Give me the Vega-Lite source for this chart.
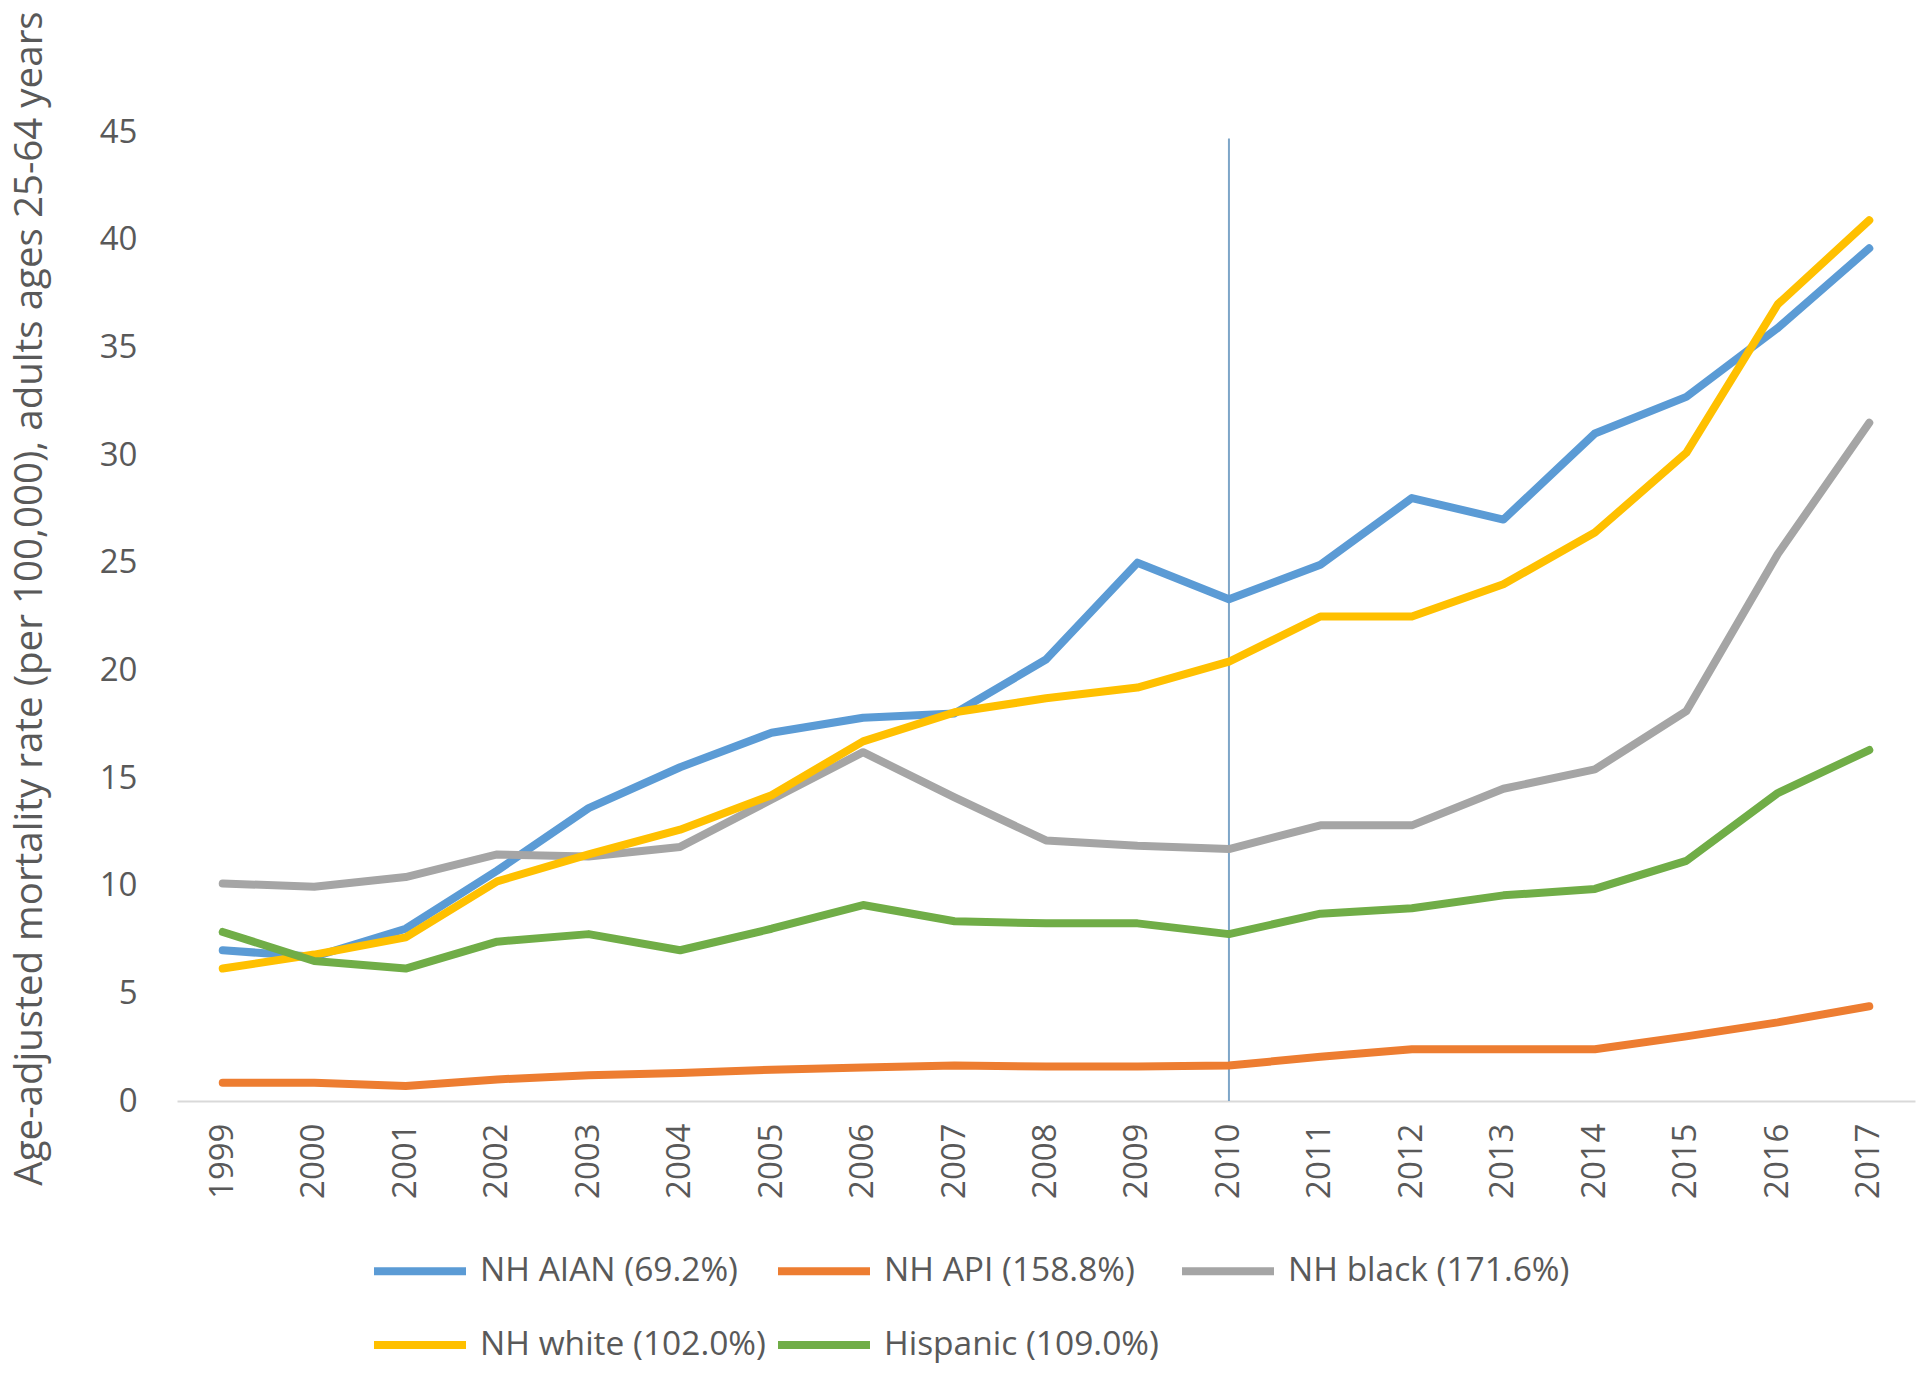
{
  "$schema": "https://vega.github.io/schema/vega-lite/v6.json",
  "autosize": {"type": "none"},
  "padding": {"left": 177, "top": 132, "right": 5, "bottom": 276},
  "width": 1738,
  "height": 969,
  "background": "white",
  "config": {"view": {"stroke": null}},
  "datasets": {
    "series": [
      {"year": "1999", "group": "NH AIAN (69.2%)", "rate": 7.0},
      {"year": "2000", "group": "NH AIAN (69.2%)", "rate": 6.7},
      {"year": "2001", "group": "NH AIAN (69.2%)", "rate": 8.0},
      {"year": "2002", "group": "NH AIAN (69.2%)", "rate": 10.7},
      {"year": "2003", "group": "NH AIAN (69.2%)", "rate": 13.6},
      {"year": "2004", "group": "NH AIAN (69.2%)", "rate": 15.5},
      {"year": "2005", "group": "NH AIAN (69.2%)", "rate": 17.1},
      {"year": "2006", "group": "NH AIAN (69.2%)", "rate": 17.8},
      {"year": "2007", "group": "NH AIAN (69.2%)", "rate": 18.0},
      {"year": "2008", "group": "NH AIAN (69.2%)", "rate": 20.5},
      {"year": "2009", "group": "NH AIAN (69.2%)", "rate": 25.0},
      {"year": "2010", "group": "NH AIAN (69.2%)", "rate": 23.3},
      {"year": "2011", "group": "NH AIAN (69.2%)", "rate": 24.9},
      {"year": "2012", "group": "NH AIAN (69.2%)", "rate": 28.0},
      {"year": "2013", "group": "NH AIAN (69.2%)", "rate": 27.0},
      {"year": "2014", "group": "NH AIAN (69.2%)", "rate": 31.0},
      {"year": "2015", "group": "NH AIAN (69.2%)", "rate": 32.7},
      {"year": "2016", "group": "NH AIAN (69.2%)", "rate": 35.9},
      {"year": "2017", "group": "NH AIAN (69.2%)", "rate": 39.6},
      {"year": "1999", "group": "NH API (158.8%)", "rate": 0.85},
      {"year": "2000", "group": "NH API (158.8%)", "rate": 0.85},
      {"year": "2001", "group": "NH API (158.8%)", "rate": 0.7},
      {"year": "2002", "group": "NH API (158.8%)", "rate": 1.0},
      {"year": "2003", "group": "NH API (158.8%)", "rate": 1.2},
      {"year": "2004", "group": "NH API (158.8%)", "rate": 1.3},
      {"year": "2005", "group": "NH API (158.8%)", "rate": 1.45},
      {"year": "2006", "group": "NH API (158.8%)", "rate": 1.55},
      {"year": "2007", "group": "NH API (158.8%)", "rate": 1.65},
      {"year": "2008", "group": "NH API (158.8%)", "rate": 1.6},
      {"year": "2009", "group": "NH API (158.8%)", "rate": 1.6},
      {"year": "2010", "group": "NH API (158.8%)", "rate": 1.65},
      {"year": "2011", "group": "NH API (158.8%)", "rate": 2.05},
      {"year": "2012", "group": "NH API (158.8%)", "rate": 2.4},
      {"year": "2013", "group": "NH API (158.8%)", "rate": 2.4},
      {"year": "2014", "group": "NH API (158.8%)", "rate": 2.4},
      {"year": "2015", "group": "NH API (158.8%)", "rate": 3.0},
      {"year": "2016", "group": "NH API (158.8%)", "rate": 3.65},
      {"year": "2017", "group": "NH API (158.8%)", "rate": 4.4},
      {"year": "1999", "group": "NH black (171.6%)", "rate": 10.1},
      {"year": "2000", "group": "NH black (171.6%)", "rate": 9.95},
      {"year": "2001", "group": "NH black (171.6%)", "rate": 10.4},
      {"year": "2002", "group": "NH black (171.6%)", "rate": 11.45},
      {"year": "2003", "group": "NH black (171.6%)", "rate": 11.35},
      {"year": "2004", "group": "NH black (171.6%)", "rate": 11.8},
      {"year": "2005", "group": "NH black (171.6%)", "rate": 14.0},
      {"year": "2006", "group": "NH black (171.6%)", "rate": 16.2},
      {"year": "2007", "group": "NH black (171.6%)", "rate": 14.1},
      {"year": "2008", "group": "NH black (171.6%)", "rate": 12.1},
      {"year": "2009", "group": "NH black (171.6%)", "rate": 11.85},
      {"year": "2010", "group": "NH black (171.6%)", "rate": 11.7},
      {"year": "2011", "group": "NH black (171.6%)", "rate": 12.8},
      {"year": "2012", "group": "NH black (171.6%)", "rate": 12.8},
      {"year": "2013", "group": "NH black (171.6%)", "rate": 14.5},
      {"year": "2014", "group": "NH black (171.6%)", "rate": 15.4},
      {"year": "2015", "group": "NH black (171.6%)", "rate": 18.1},
      {"year": "2016", "group": "NH black (171.6%)", "rate": 25.4},
      {"year": "2017", "group": "NH black (171.6%)", "rate": 31.5},
      {"year": "1999", "group": "NH white (102.0%)", "rate": 6.15},
      {"year": "2000", "group": "NH white (102.0%)", "rate": 6.8},
      {"year": "2001", "group": "NH white (102.0%)", "rate": 7.6},
      {"year": "2002", "group": "NH white (102.0%)", "rate": 10.2},
      {"year": "2003", "group": "NH white (102.0%)", "rate": 11.45},
      {"year": "2004", "group": "NH white (102.0%)", "rate": 12.6},
      {"year": "2005", "group": "NH white (102.0%)", "rate": 14.2},
      {"year": "2006", "group": "NH white (102.0%)", "rate": 16.7},
      {"year": "2007", "group": "NH white (102.0%)", "rate": 18.05},
      {"year": "2008", "group": "NH white (102.0%)", "rate": 18.7},
      {"year": "2009", "group": "NH white (102.0%)", "rate": 19.2},
      {"year": "2010", "group": "NH white (102.0%)", "rate": 20.4},
      {"year": "2011", "group": "NH white (102.0%)", "rate": 22.5},
      {"year": "2012", "group": "NH white (102.0%)", "rate": 22.5},
      {"year": "2013", "group": "NH white (102.0%)", "rate": 24.0},
      {"year": "2014", "group": "NH white (102.0%)", "rate": 26.4},
      {"year": "2015", "group": "NH white (102.0%)", "rate": 30.1},
      {"year": "2016", "group": "NH white (102.0%)", "rate": 37.0},
      {"year": "2017", "group": "NH white (102.0%)", "rate": 40.9},
      {"year": "1999", "group": "Hispanic (109.0%)", "rate": 7.85},
      {"year": "2000", "group": "Hispanic (109.0%)", "rate": 6.5},
      {"year": "2001", "group": "Hispanic (109.0%)", "rate": 6.15},
      {"year": "2002", "group": "Hispanic (109.0%)", "rate": 7.4},
      {"year": "2003", "group": "Hispanic (109.0%)", "rate": 7.75},
      {"year": "2004", "group": "Hispanic (109.0%)", "rate": 7.0},
      {"year": "2005", "group": "Hispanic (109.0%)", "rate": 8.0},
      {"year": "2006", "group": "Hispanic (109.0%)", "rate": 9.1},
      {"year": "2007", "group": "Hispanic (109.0%)", "rate": 8.35},
      {"year": "2008", "group": "Hispanic (109.0%)", "rate": 8.25},
      {"year": "2009", "group": "Hispanic (109.0%)", "rate": 8.25},
      {"year": "2010", "group": "Hispanic (109.0%)", "rate": 7.75},
      {"year": "2011", "group": "Hispanic (109.0%)", "rate": 8.7},
      {"year": "2012", "group": "Hispanic (109.0%)", "rate": 8.95},
      {"year": "2013", "group": "Hispanic (109.0%)", "rate": 9.55},
      {"year": "2014", "group": "Hispanic (109.0%)", "rate": 9.85},
      {"year": "2015", "group": "Hispanic (109.0%)", "rate": 11.15},
      {"year": "2016", "group": "Hispanic (109.0%)", "rate": 14.3},
      {"year": "2017", "group": "Hispanic (109.0%)", "rate": 16.3}
    ],
    "marker": [
      {"year": "2010", "lo": 0, "hi": 44.7}
    ]
  },
  "layer": [
    {
      "data": {"name": "marker"},
      "mark": {"type": "rule", "color": "#7EA6C8", "strokeWidth": 2},
      "encoding": {
        "x": {"field": "year", "type": "ordinal", "bandPosition": 0.5},
        "y": {"field": "lo", "type": "quantitative"},
        "y2": {"field": "hi"}
      }
    },
    {
      "data": {"name": "series"},
      "mark": {"type": "line", "strokeWidth": 8, "strokeJoin": "round", "strokeCap": "round"},
      "encoding": {
        "x": {
          "field": "year",
          "type": "ordinal",
          "bandPosition": 0.5,
          "scale": {"type": "band", "paddingInner": 0, "paddingOuter": 0},
          "axis": {
            "title": null,
            "labelAngle": -90,
            "labelFont": "Open Sans",
            "labelFontSize": 33,
            "labelColor": "#595959",
            "labelPadding": 22,
            "ticks": false,
            "domainColor": "#D9D9D9",
            "domainWidth": 2,
            "grid": false
          }
        },
        "y": {
          "field": "rate",
          "type": "quantitative",
          "scale": {"domain": [0, 45], "nice": false, "zero": true},
          "axis": {
            "values": [0, 5, 10, 15, 20, 25, 30, 35, 40, 45],
            "title": "Age-adjusted mortality rate (per 100,000), adults ages 25-64 years",
            "titleFont": "Open Sans",
            "titleFontSize": 38.5,
            "titleFontWeight": "normal",
            "titleColor": "#595959",
            "titleAngle": -90,
            "titleX": -148,
            "titleY": 466,
            "titleAlign": "center",
            "titleBaseline": "middle",
            "labelFont": "Open Sans",
            "labelFontSize": 33,
            "labelColor": "#595959",
            "labelPadding": 40,
            "ticks": false,
            "domain": false,
            "grid": false
          }
        },
        "color": {
          "field": "group",
          "type": "nominal",
          "sort": null,
          "scale": {
            "domain": ["NH AIAN (69.2%)", "NH API (158.8%)", "NH black (171.6%)", "NH white (102.0%)", "Hispanic (109.0%)"],
            "range": ["#5B9BD5", "#ED7D31", "#A5A5A5", "#FFC000", "#70AD47"]
          },
          "legend": {
            "title": null,
            "orient": "none",
            "legendX": 193,
            "legendY": 1089,
            "direction": "horizontal",
            "columns": 3,
            "gridAlign": "all",
            "columnPadding": -4,
            "rowPadding": 7,
            "symbolType": "stroke",
            "symbolSize": 8464,
            "symbolStrokeWidth": 8,
            "labelFont": "Open Sans",
            "labelFontSize": 33.5,
            "labelColor": "#595959",
            "labelOffset": 10,
            "labelLimit": 0
          }
        }
      }
    }
  ]
}
